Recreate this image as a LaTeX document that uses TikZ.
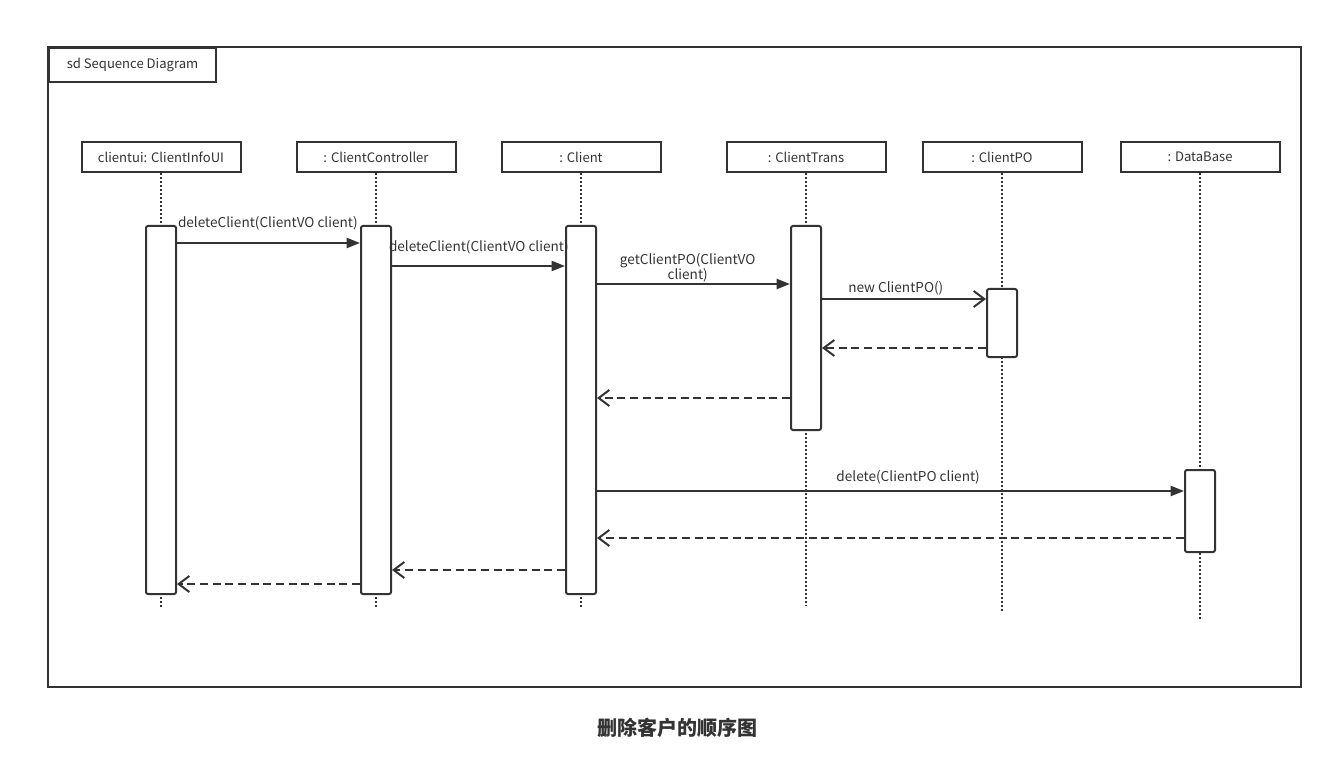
\documentclass[tikz,border=0pt]{standalone}
\usepackage{fontspec}
\setmainfont{Noto Sans CJK SC}
\usepackage{tikz}
\usetikzlibrary{arrows.meta}
\usetikzlibrary{positioning}
\definecolor{ink}{HTML}{333333}

\tikzset{
	head/.style={draw=ink, line width=1.5pt, fill=white, minimum width=119.25pt, minimum height=22.5pt, inner sep=0pt, text=ink, font=\fontsize{9.8}{11}\selectfont},
	act/.style={draw=ink, line width=1.5pt, fill=white, minimum width=22.5pt, inner sep=0pt, rounded corners=1.5pt},
	life/.style={draw=ink, line width=1.2pt, dash pattern=on 1.5pt off 1.5pt},
	msg/.style={draw=ink, line width=1.5pt, -{Triangle[length=10pt, width=7.5pt]}},
	create/.style={draw=ink, line width=1.5pt, -{Straight Barb[length=8pt, width=12pt, line width=1.5pt]}},
	reply/.style={draw=ink, line width=1.5pt, dash pattern=on 6pt off 3.5pt, -{Straight Barb[length=8pt, width=12pt, line width=1.5pt]}},
	lbl/.style={text=ink, inner sep=0pt, font=\fontsize{10.2}{11.5}\selectfont},
}

\begin{document}
\begin{tikzpicture}[x=0.75pt, y=-0.75pt]

	\useasboundingbox (0,0) rectangle (1333,780);

	% frame and its tab
	\coordinate (fnw) at (48,47);
	\coordinate (fse) at (1301,687);
	\draw[ink, line width=1.5pt] (fnw) rectangle (fse);
	\node[head, anchor=north west, minimum width=125.25pt, minimum height=25.5pt] (tab) at (fnw) {sd Sequence Diagram};

	% lifeline heads and lifelines
	\foreach \nm/\x/\e/\txt in {ui/161/607/clientui: ClientInfoUI, ctl/376/607/: ClientController, cl/581/609/: Client, tr/806/606/: ClientTrans, po/1002/613/: ClientPO, db/1200/620/: DataBase}
		{
			\node[head] (\nm) at (\x,157) {\txt};
			\coordinate (\nm end) at (\x,\e);
			\draw[life] (\nm.south) -- (\nm end);
		}

	% activations
	\foreach \nm/\x/\ya/\yb in {aui/161/226/594, actl/376/226/594, acl/581/226/594, atr/806/226/430, apo/1002/289/357, adb/1200/470/552}
		{
			\pgfmathsetmacro{\h}{(\yb-\ya)*0.75}
			\node[act, minimum height=\h pt] (\nm) at (\x,{(\ya+\yb)/2}) {};
		}

	% message levels
	\coordinate (y1) at (0,243);
	\coordinate (y2) at (0,266);
	\coordinate (y3) at (0,284);
	\coordinate (y4) at (0,299);
	\coordinate (y5) at (0,348);
	\coordinate (y6) at (0,398);
	\coordinate (y7) at (0,491);
	\coordinate (y8) at (0,538);
	\coordinate (y9) at (0,570);
	\coordinate (y10) at (0,584);

	\draw[msg] (aui.east |- y1) -- (actl.west |- y1)
		node[lbl, anchor=west, pos=0, yshift=14.5pt] (l1) {deleteClient(ClientVO client)};
	\draw[msg] (actl.east |- y2) -- (acl.west |- y2)
		node[lbl, anchor=west, pos=0, xshift=-3pt, yshift=14pt] (l2) {deleteClient(ClientVO client)};
	\draw[msg] (acl.east |- y3) -- (atr.west |- y3)
		node[lbl, align=center, pos=.47, yshift=12pt] (l3) {getClientPO(ClientVO\\client)};
	\draw[create] (atr.east |- y4) -- (apo.west |- y4)
		node[lbl, pos=.45, yshift=8.25pt] (l4) {new ClientPO()};
	\draw[reply] (apo.west |- y5) -- (atr.east |- y5);
	\draw[reply] (atr.west |- y6) -- (acl.east |- y6);
	\draw[msg] (acl.east |- y7) -- (adb.west |- y7)
		node[lbl, pos=.53, yshift=10.5pt] (l5) {delete(ClientPO client)};
	\draw[reply] (adb.west |- y8) -- (acl.east |- y8);
	\draw[reply] (acl.west |- y9) -- (actl.east |- y9);
	\draw[reply] (actl.west |- y10) -- (aui.east |- y10);

%	\draw[red] (0,0) grid[step=100] (1333,780);

	\node[text=ink, font=\fontsize{15}{18}\selectfont\bfseries] (caption) at (677,728) {删除客户的顺序图};

\end{tikzpicture}
\end{document}
